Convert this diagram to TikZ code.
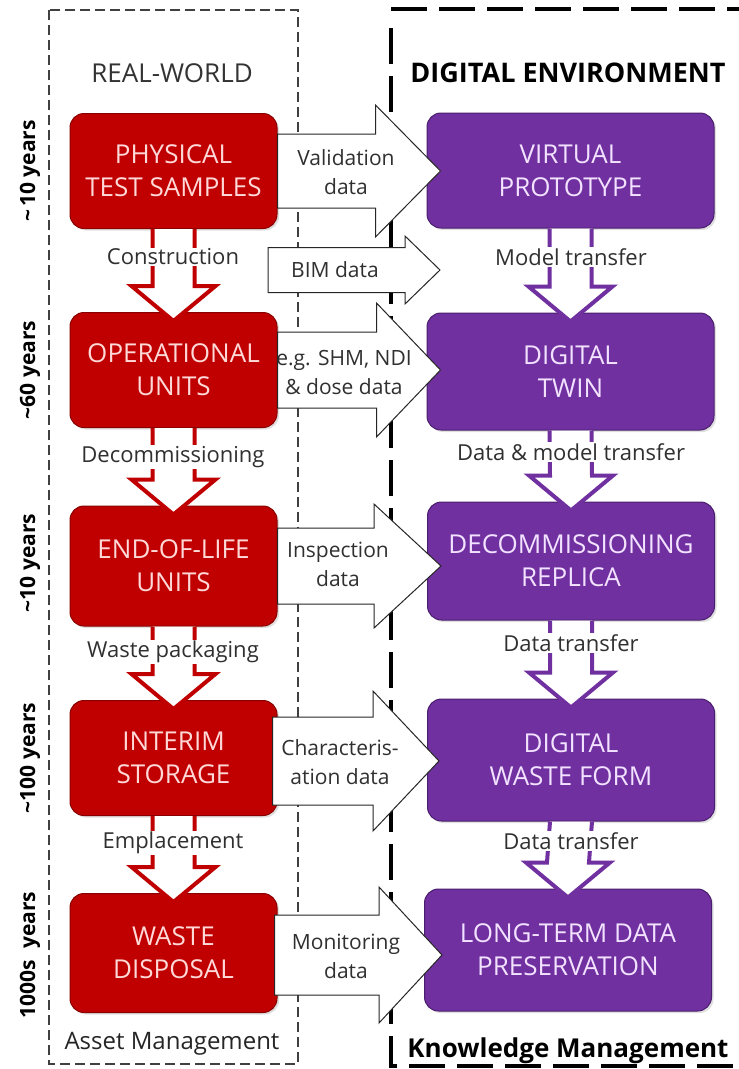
\documentclass[tikz,border=0pt]{standalone}
\usepackage{fontspec}
\setmainfont{Open Sans}
\usetikzlibrary{calc,shadows}
\definecolor{rwred}{HTML}{C00000}
\definecolor{rwredD}{HTML}{8A0000}
\definecolor{dgpur}{HTML}{7030A0}
\definecolor{dgpurD}{HTML}{4A1E6E}
\definecolor{redtxt}{HTML}{FFD8D8}
\definecolor{purtxt}{HTML}{F2E2FF}
\definecolor{lbl}{HTML}{303030}
\newcommand\vblk[3]{%
  \path[#3] ($(#1.south)+(-21,0)$) -- ($(#2.north)+(-21,-26)$) -- ($(#2.north)+(-42,-26)$)
    -- ($(#2.north)+(0,9)$) -- ($(#2.north)+(42,-26)$) -- ($(#2.north)+(21,-26)$)
    -- ($(#1.south)+(21,0)$);}
\newcommand\hblk[5]{%
  \path[harrow] ($(#1)+(0,-#3)$) -- ($(#2)+(-#5,-#3)$) -- ($(#2)+(-#5,-#4)$) -- (#2)
    -- ($(#2)+(-#5,#4)$) -- ($(#2)+(-#5,#3)$) -- ($(#1)+(0,#3)$) -- cycle;}
\begin{document}
\begin{tikzpicture}[x=1pt,y=-1pt,
  boxtext/.style={align=center, font=\fontsize{26}{33}\selectfont},
  redbox/.style={boxtext, draw=rwredD, line width=1pt, fill=rwred, rounded corners=14pt,
    minimum width=207pt, minimum height=115pt, text=redtxt,
    drop shadow={opacity=0.25, shadow xshift=2pt, shadow yshift=-2pt}},
  purbox/.style={boxtext, draw=dgpurD, line width=1pt, fill=dgpur, rounded corners=14pt,
    minimum width=287pt, minimum height=118pt, text=purtxt,
    drop shadow={opacity=0.25, shadow xshift=2pt, shadow yshift=-2pt}},
  redarrow/.style={draw=rwred, line width=4pt, fill=white, line join=miter},
  purarrow/.style={draw=dgpur, line width=4pt, fill=white, line join=miter},
  harrow/.style={draw=black!85, line width=1pt, fill=white, line join=miter},
  vlabel/.style={fill=white, inner sep=1pt, text=lbl, font=\fontsize{22}{26}\selectfont},
  hlabel/.style={align=center, inner sep=0pt, text=lbl, font=\fontsize{21}{29}\selectfont},
  years/.style={rotate=90, font=\bfseries\fontsize{21}{24}\selectfont},
  leftframe/.style={draw=black!75, line width=1.2pt, dash pattern=on 10pt off 5pt},
  rightframe/.style={draw=black, line width=4.5pt, dash pattern=on 36pt off 12pt},
  title/.style={font=\fontsize{26}{30}\selectfont}
]
\useasboundingbox (0,0) rectangle (739,1069);
\fill[white] (0,0) rectangle (739,1069);

% frames
\draw[leftframe] (49,10) rectangle (298,1064);
\draw[rightframe] (391,9) -- (739,9);
\draw[rightframe] (391,28) -- (391,1066) -- (739,1066);

% titles
\node[title, text=black!80] (tRW) at (172,73) {REAL-WORLD};
\node[title, font=\bfseries\fontsize{27}{30}\selectfont] (tDE) at (568,73) {DIGITAL ENVIRONMENT};
\node[title, font=\fontsize{24}{28}\selectfont, text=black!85] (tAM) at (172,1044) {Asset Management};
\node[title, font=\bfseries\fontsize{26}{30}\selectfont, anchor=base] (tKM) at (568,1057) {Knowledge Management};

% year labels
\node[years] (y1) at (30,171) {\textasciitilde\,10 years};
\node[years] (y2) at (30,370) {\textasciitilde60 years};
\node[years] (y3) at (30,563) {\textasciitilde10 years};
\node[years] (y4) at (30,758) {\textasciitilde100 years};
\node[years] (y5) at (30,955) {1000s\ \ years};

% real-world boxes
\node[redbox] (r1) at (173.5,171) {PHYSICAL\\TEST SAMPLES};
\node[redbox] (r2) at (173.5,370) {OPERATIONAL\\UNITS};
\node[redbox, minimum height=120pt] (r3) at (173.5,566) {END-OF-LIFE\\UNITS};
\node[redbox] (r4) at (173.5,758) {INTERIM\\STORAGE};
\node[redbox, minimum height=119pt] (r5) at (173.5,953) {WASTE\\DISPOSAL};

% digital boxes
\node[purbox, minimum height=115pt] (p1) at (570.5,170.5) {VIRTUAL\\PROTOTYPE};
\node[purbox, minimum height=117pt] (p2) at (570.5,371.5) {DIGITAL\\TWIN};
\node[purbox] (p3) at (571,561) {DECOMMISSIONING\\REPLICA};
\node[purbox, minimum height=122pt] (p4) at (571,760) {DIGITAL\\WASTE FORM};
\node[purbox, minimum height=122pt] (p5) at (568,950) {LONG-TERM DATA\\PRESERVATION};

% vertical block arrows
\vblk{r1}{r2}{redarrow}
\vblk{r2}{r3}{redarrow}
\vblk{r3}{r4}{redarrow}
\vblk{r4}{r5}{redarrow}
\vblk{p1}{p2}{purarrow}
\vblk{p2}{p3}{purarrow}
\vblk{p3}{p4}{purarrow}
\vblk{p4}{p5}{purarrow}

\node[vlabel] (v1) at (173,257) {Construction};
\node[vlabel] (v2) at (173,457) {Decommissioning};
\node[vlabel] (v3) at (173,652) {Waste packaging};
\node[vlabel] (v4) at (173,843) {Emplacement};
\node[vlabel] (w1) at (571,257) {Model transfer};
\node[vlabel] (w2) at (571,452) {Data \& model transfer};
\node[vlabel] (w3) at (571,643) {Data transfer};
\node[vlabel] (w4) at (571,841) {Data transfer};

% horizontal block arrows
\coordinate (t1) at ($(r1.east -| p1.west)+(14,0)$);
\coordinate (t2) at ($(r2.east -| p2.west)+(14,0)$);
\coordinate (t3) at ($(r3.east -| p3.west)+(14,0)$);
\coordinate (s4) at ($(r4.east)+(-5,3)$);
\coordinate (t4) at ($(s4 -| p4.west)+(12,0)$);
\coordinate (s5) at ($(r5.east)+(-3,2)$);
\coordinate (t5) at ($(s5 -| p5.west)+(18,0)$);
\coordinate (bs) at (268,270);
\coordinate (bt) at (440,270);

\hblk{r1.east}{t1}{37}{66}{65}
\hblk{bs}{bt}{22.5}{34}{35}
\hblk{r2.east}{t2}{38}{67}{64}
\hblk{r3.east}{t3}{38}{62}{67}
\hblk{s4}{t4}{44}{70}{66}
\hblk{s5}{t5}{40}{68}{63}

\node[hlabel] (h1) at (346,172) {Validation\\data};
\node[hlabel] (hb) at (335,270) {BIM data};
\node[hlabel] (h2) at (344,372) {e.g. SHM, NDI\\\& dose data};
\node[hlabel] (h3) at (338,564) {Inspection\\data};
\node[hlabel] (h4) at (340,762) {Characteris-\\ation data};
\node[hlabel] (h5) at (346,956) {Monitoring\\data};
\end{tikzpicture}
\end{document}
